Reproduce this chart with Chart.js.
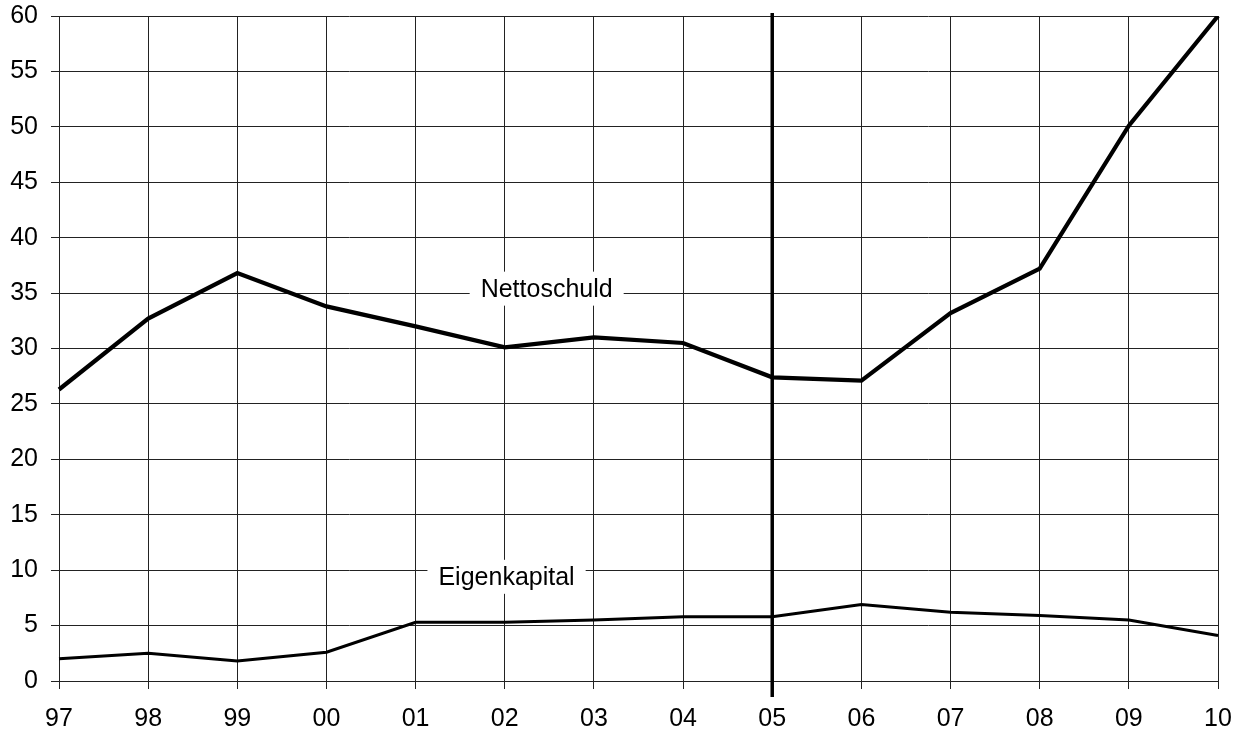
<!DOCTYPE html>
<html>
<head>
<meta charset="utf-8">
<script src="https://cdn.jsdelivr.net/npm/chart.js@4.4.1/dist/chart.umd.min.js"></script>
<style>
html,body{margin:0;padding:0;background:#fff;}
#wrap{width:1243px;height:729px;}
</style>
</head>
<body>
<div id="wrap"><canvas id="c" width="1243" height="729"></canvas></div>
<script>
const categories = ['97','98','99','00','01','02','03','04','05','06','07','08','09','10'];
const nettoschuld = [26.3, 32.7, 36.8, 33.8, 32.0, 30.1, 31.0, 30.5, 27.4, 27.1, 33.2, 37.2, 50.1, 60.0];
const eigenkapital = [2.0, 2.5, 1.8, 2.6, 5.3, 5.3, 5.5, 5.8, 5.8, 6.9, 6.2, 5.9, 5.5, 4.1];
const yTicks = [0, 5, 10, 15, 20, 25, 30, 35, 40, 45, 50, 55, 60];
const markerCategory = '05';
const seriesLabels = [
  {text: 'Nettoschuld', xIndex: 5.47, y: 35.4},
  {text: 'Eigenkapital', xIndex: 5.02, y: 9.4}
];

const FONT = '"Liberation Sans", Arial, sans-serif';

const overlay = {
  id: 'overlay',
  beforeDatasetsDraw(chart) {
    const ctx = chart.ctx;
    const xs = chart.scales.x, ys = chart.scales.y;
    ctx.save();
    ctx.font = '25px ' + FONT;
    ctx.textAlign = 'center';
    ctx.textBaseline = 'middle';
    seriesLabels.forEach(l => {
      const i0 = Math.floor(l.xIndex), f = l.xIndex - i0;
      const px = xs.getPixelForValue(i0) + f * (xs.getPixelForValue(i0 + 1) - xs.getPixelForValue(i0));
      const py = ys.getPixelForValue(l.y);
      const w = ctx.measureText(l.text).width + 22;
      ctx.fillStyle = '#fff';
      ctx.fillRect(px - w / 2, py - 17, w, 34);
      ctx.fillStyle = '#000';
      ctx.fillText(l.text, px, py + 1);
    });
    ctx.restore();
  },
  afterDatasetsDraw(chart) {
    const ctx = chart.ctx;
    const xs = chart.scales.x;
    const a = chart.chartArea;
    const px = xs.getPixelForValue(categories.indexOf(markerCategory));
    ctx.save();
    ctx.strokeStyle = '#000';
    ctx.lineWidth = 3.5;
    ctx.beginPath();
    ctx.moveTo(px, a.top - 3);
    ctx.lineTo(px, a.bottom + 16);
    ctx.stroke();
    ctx.restore();
  }
};

new Chart(document.getElementById('c'), {
  type: 'line',
  data: {
    labels: categories,
    datasets: [
      {label: 'Nettoschuld', data: nettoschuld, borderColor: '#000', borderWidth: 4.2, pointRadius: 0, tension: 0, fill: false},
      {label: 'Eigenkapital', data: eigenkapital, borderColor: '#000', borderWidth: 3, pointRadius: 0, tension: 0, fill: false}
    ]
  },
  options: {
    responsive: false,
    animation: false,
    devicePixelRatio: 1,
    layout: {padding: {top: 16, right: 25, bottom: 0, left: 0}},
    plugins: {legend: {display: false}, tooltip: {enabled: false}},
    scales: {
      x: {
        type: 'category',
        offset: false,
        border: {display: true, color: '#222', width: 1},
        grid: {color: '#222', lineWidth: 1, tickLength: 8, drawTicks: true},
        ticks: {color: '#000', font: {family: FONT, size: 25}, padding: 15, maxRotation: 0, autoSkip: false},
        afterFit(s) { s.height = 48; s.paddingLeft = 0; s.paddingRight = 0; }
      },
      y: {
        min: 0, max: 60,
        afterBuildTicks(s) { s.ticks = yTicks.map(v => ({value: v})); },
        border: {display: true, color: '#222', width: 1},
        grid: {color: '#222', lineWidth: 1, tickLength: 8},
        ticks: {color: '#000', font: {family: FONT, size: 25}, padding: 13},
        afterFit(s) { s.width = 59; s.paddingTop = 0; s.paddingBottom = 0; }
      }
    }
  },
  plugins: [overlay]
});
</script>
</body>
</html>
